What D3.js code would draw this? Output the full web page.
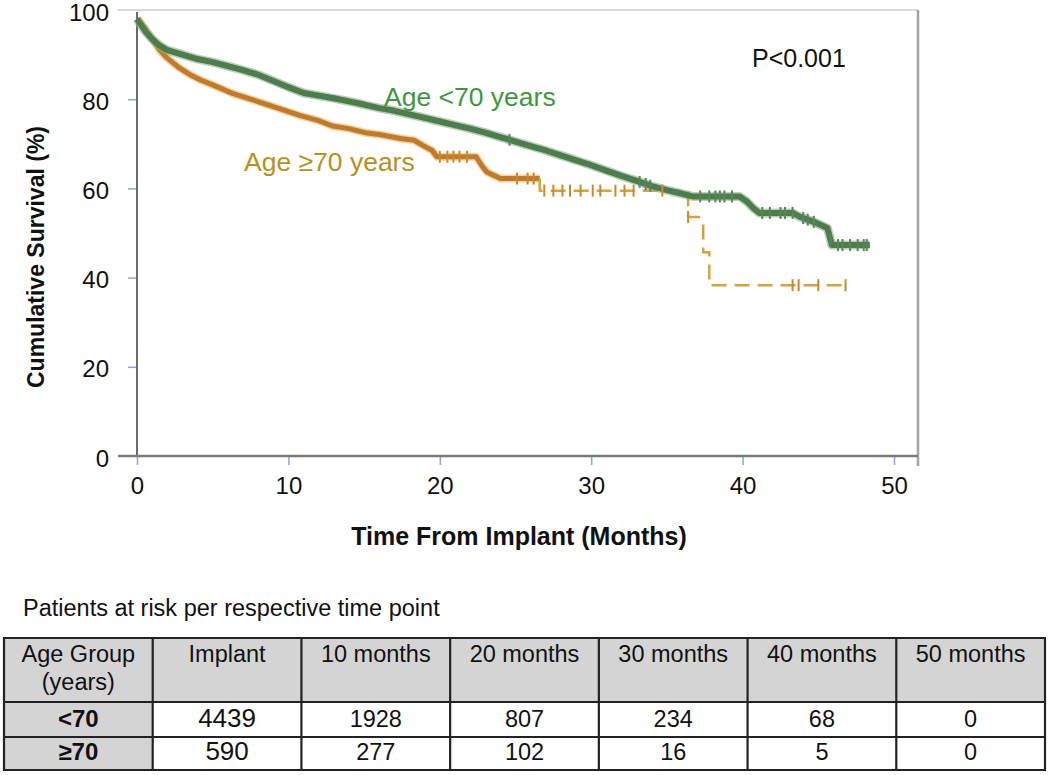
<!DOCTYPE html>
<html>
<head>
<meta charset="utf-8">
<script src="https://cdn.jsdelivr.net/npm/d3@7/dist/d3.min.js"></script>
<style>
  html, body { margin: 0; padding: 0; background: #fff; }
  svg { display: block; font-family: Arial, "Liberation Sans", Helvetica, sans-serif; }
</style>
</head>
<body>
<svg id="chart" width="1050" height="775"></svg>
<script>
// ---------------- DATA ----------------
const monthTicks = [0, 10, 20, 30, 40, 50];
const survivalTicks = [0, 20, 40, 60, 80, 100];

// Age <70 years (Kaplan-Meier)
const youngT = [0, 0.3, 0.6, 1, 1.5, 2, 3, 4, 5, 6, 7, 8, 9, 10, 11, 12, 13, 14, 15, 16, 17, 18, 19, 20,
  21, 22, 23, 24, 25, 26, 27, 28, 29, 30, 31, 32, 33, 34, 35, 36, 36.7, 39.8, 40.3, 40.7, 41.1, 43.3,
  43.8, 44.7, 45.6, 45.9, 48.4];
const youngS = [98, 96.5, 95, 93.5, 92, 91, 90, 89, 88.3, 87.4, 86.5, 85.5, 84.1, 82.7, 81.4, 80.8, 80.2,
  79.5, 78.8, 78, 77.4, 76.6, 75.8, 75, 74.2, 73.4, 72.5, 71.5, 70.5, 69.5, 68.5, 67.4, 66.3, 65.2, 64,
  62.8, 61.7, 60.5, 59.6, 58.8, 58.2, 58.2, 57, 55.6, 54.5, 54.5, 53.6, 52.5, 51.1, 47.3, 47.3];
const youngCensorT = [24.6, 33.2, 33.6, 33.9, 37.2, 37.8, 38.2, 38.5, 38.8, 39.3, 41.3, 41.8, 42.5, 42.8,
  43.3, 44.0, 44.3, 44.7, 45.8, 46.3, 46.6, 47.1, 47.6, 48.0, 48.2];

// Age >=70 years
const oldT = [0, 0.5, 0.9, 1.5, 2, 2.8, 3.5, 4.2, 5, 6.3, 7.5, 8.6, 10, 10.8, 12, 12.9, 14, 15.2, 16,
  17.4, 18.3, 18.9, 19.5, 19.8, 22.4, 22.8, 23.1, 24, 26.6,
  26.6, 36.4, 36.4, 37.1, 37.4, 37.4, 37.8, 37.8, 47];
const oldS = [98, 96, 94, 91, 89.2, 87, 85.5, 84.3, 83.2, 81.3, 80, 78.8, 77.2, 76.3, 75.2, 74, 73.4,
  72.4, 72.1, 71.2, 70.8, 69.6, 68.5, 67.1, 67.1, 65, 63.7, 62.2, 62.2,
  59.5, 59.5, 53.6, 53.6, 52.7, 45.7, 45.7, 38.3, 38.3];
const oldSolidUntil = 26.6;
const oldCensorT = [20.0, 20.5, 20.9, 21.3, 21.8, 25.1, 25.8, 26.2, 26.9, 27.5, 28.1, 28.6, 29.3, 30.1,
  30.6, 31.6, 32.2, 32.8, 34.7, 36.4, 43.3, 43.7, 45.0, 46.8];

// Risk table
const tableTitle = "Patients at risk per respective time point";
const tableHeaders = [["Age Group", "(years)"], ["Implant"], ["10 months"], ["20 months"], ["30 months"], ["40 months"], ["50 months"]];
const ageGroups = ["<70", "\u226570"];
const riskYoung = [4439, 1928, 807, 234, 68, 0];
const riskOld = [590, 277, 102, 16, 5, 0];

// ---------------- DRAW ----------------
const svg = d3.select("#chart");
const x = d3.scaleLinear().domain([0, 50]).range([137, 894]);
const y = d3.scaleLinear().domain([0, 100]).range([456, 10]);

// frame lines
svg.append("line").attr("x1", 118).attr("x2", 918).attr("y1", y(100)).attr("y2", y(100))
  .attr("stroke", "#d9d9d9").attr("stroke-width", 2);
svg.append("line").attr("x1", 918).attr("x2", 918).attr("y1", y(100)).attr("y2", 466)
  .attr("stroke", "#a3a3a3").attr("stroke-width", 2.5);

// axes
const yAxis = d3.axisLeft(y).tickValues(survivalTicks).tickSize(9).tickPadding(19);
const gy = svg.append("g").attr("transform", `translate(${x(0)},0)`).call(yAxis);
gy.select(".domain").remove();
gy.selectAll(".tick line").attr("stroke", "#8ea6dc").attr("stroke-width", 1.5)
  .attr("opacity", d => (d === 0 || d === 100) ? 0 : 1);
gy.selectAll(".tick text").attr("font-size", 24).attr("dy", "0.42em").attr("fill", "#111")
  .attr("font-family", "Arial, 'Liberation Sans', sans-serif");

const xAxis = d3.axisBottom(x).tickValues(monthTicks).tickSize(9).tickPadding(12);
const gx = svg.append("g").attr("transform", `translate(0,${y(0)})`).call(xAxis);
gx.select(".domain").remove();
gx.selectAll(".tick line").attr("stroke", "#8ea6dc").attr("stroke-width", 1.5);
gx.selectAll(".tick text").attr("font-size", 24).attr("fill", "#111")
  .attr("font-family", "Arial, 'Liberation Sans', sans-serif");

svg.append("line").attr("x1", x(0)).attr("x2", x(0)).attr("y1", 12).attr("y2", y(0))
  .attr("stroke", "#6a6a6a").attr("stroke-width", 2);
svg.append("line").attr("x1", 118).attr("x2", 918).attr("y1", y(0)).attr("y2", y(0))
  .attr("stroke", "#7a7a7a").attr("stroke-width", 2.5);

// helpers
function pts(T, S) { return T.map((t, i) => [t, S[i]]); }
function valueAt(T, S, t) {
  let i = d3.bisectRight(T, t) - 1;
  if (i < 0) return S[0];
  if (i >= T.length - 1) return S[S.length - 1];
  const t0 = T[i], t1 = T[i + 1];
  if (t1 === t0) return S[i + 1];
  return S[i] + (S[i + 1] - S[i]) * (t - t0) / (t1 - t0);
}
const line = d3.line().x(d => x(d[0])).y(d => y(d[1]));

// Age >= 70 curve
const oldPts = pts(oldT, oldS);
const splitIdx = oldT.indexOf(oldSolidUntil);
const oldSolid = oldPts.slice(0, splitIdx + 1);
const oldTail = oldPts.slice(splitIdx);
svg.append("path").attr("d", line(oldSolid)).attr("fill", "none")
  .attr("stroke", "#e0b060").attr("stroke-width", 8).attr("stroke-opacity", 0.55).attr("stroke-linejoin", "round");
svg.append("path").attr("d", line(oldSolid)).attr("fill", "none")
  .attr("stroke", "#c27a26").attr("stroke-width", 5).attr("stroke-linejoin", "round");
svg.append("path").attr("d", line(oldTail)).attr("fill", "none")
  .attr("stroke", "#d6a23c").attr("stroke-width", 2.5).attr("stroke-dasharray", "15,8");

// Age < 70 curve
const youngPts = pts(youngT, youngS);
svg.append("path").attr("d", line(youngPts)).attr("fill", "none")
  .attr("stroke", "#8cb08c").attr("stroke-width", 9).attr("stroke-opacity", 0.6).attr("stroke-linejoin", "round");
svg.append("path").attr("d", line(youngPts)).attr("fill", "none")
  .attr("stroke", "#4d7c4d").attr("stroke-width", 6).attr("stroke-linejoin", "round");

// censor marks
svg.append("g").selectAll("line").data(oldCensorT).join("line")
  .attr("x1", d => x(d)).attr("x2", d => x(d))
  .attr("y1", d => y(valueAt(oldT, oldS, d)) - 6).attr("y2", d => y(valueAt(oldT, oldS, d)) + 6)
  .attr("stroke", "#c98a2a").attr("stroke-width", 2);
svg.append("g").selectAll("line").data(youngCensorT).join("line")
  .attr("x1", d => x(d)).attr("x2", d => x(d))
  .attr("y1", d => y(valueAt(youngT, youngS, d)) - 6).attr("y2", d => y(valueAt(youngT, youngS, d)) + 6)
  .attr("stroke", "#5a865a").attr("stroke-width", 2);

// annotations
svg.append("text").attr("x", 752).attr("y", 67).attr("font-size", 25).attr("fill", "#111").text("P<0.001");
svg.append("text").attr("x", 384).attr("y", 106).attr("font-size", 26.5).attr("fill", "#3d983d").text("Age <70 years");
svg.append("text").attr("x", 244).attr("y", 171).attr("font-size", 26.5).attr("fill", "#b8901e").text("Age \u226570 years");

// axis titles
svg.append("text").attr("x", 519).attr("y", 545).attr("text-anchor", "middle")
  .attr("font-size", 25).attr("font-weight", "bold").attr("fill", "#111").text("Time From Implant (Months)");
svg.append("text").attr("transform", "translate(44,257) rotate(-90)").attr("text-anchor", "middle")
  .attr("font-size", 23).attr("font-weight", "bold").attr("fill", "#111").text("Cumulative Survival (%)");

// ---------------- TABLE ----------------
svg.append("text").attr("x", 23).attr("y", 616).attr("font-size", 23.5).attr("fill", "#111").text(tableTitle);

const colEdges = d3.range(tableHeaders.length + 1);
const cx = d3.scaleLinear().domain([0, tableHeaders.length]).range([4, 1045]);
const rowEdges = [638, 702, 737, 770];
const tbl = svg.append("g");

// cell fills
tbl.append("rect").attr("x", cx(0)).attr("y", rowEdges[0]).attr("width", cx(tableHeaders.length) - cx(0))
  .attr("height", rowEdges[1] - rowEdges[0]).attr("fill", "#d4d4d4");
tbl.append("rect").attr("x", cx(0)).attr("y", rowEdges[1]).attr("width", cx(1) - cx(0))
  .attr("height", rowEdges[3] - rowEdges[1]).attr("fill", "#d4d4d4");

// header text
tableHeaders.forEach((h, i) => {
  h.forEach((ln, j) => {
    tbl.append("text").attr("x", (cx(i) + cx(i + 1)) / 2).attr("y", 662 + j * 28)
      .attr("text-anchor", "middle").attr("font-size", 23.5).attr("fill", "#111").text(ln);
  });
});
// body
const rows = [riskYoung, riskOld];
const rowBase = [727, 760];
rows.forEach((vals, r) => {
  tbl.append("text").attr("x", (cx(0) + cx(1)) / 2).attr("y", rowBase[r]).attr("text-anchor", "middle")
    .attr("font-size", 24).attr("font-weight", "bold").attr("fill", "#111").text(ageGroups[r]);
  vals.forEach((v, c) => {
    tbl.append("text").attr("x", (cx(c + 1) + cx(c + 2)) / 2).attr("y", rowBase[r]).attr("text-anchor", "middle")
      .attr("font-size", c === 0 ? 26 : 23.5).attr("fill", "#111").text(v);
  });
});
// grid
rowEdges.forEach(ry => {
  tbl.append("line").attr("x1", cx(0)).attr("x2", cx(tableHeaders.length)).attr("y1", ry).attr("y2", ry)
    .attr("stroke", "#222").attr("stroke-width", 2.2);
});
colEdges.forEach(c => {
  tbl.append("line").attr("x1", cx(c)).attr("x2", cx(c)).attr("y1", rowEdges[0] - 1).attr("y2", rowEdges[3] + 1)
    .attr("stroke", "#222").attr("stroke-width", 2.2);
});
</script>
</body>
</html>
